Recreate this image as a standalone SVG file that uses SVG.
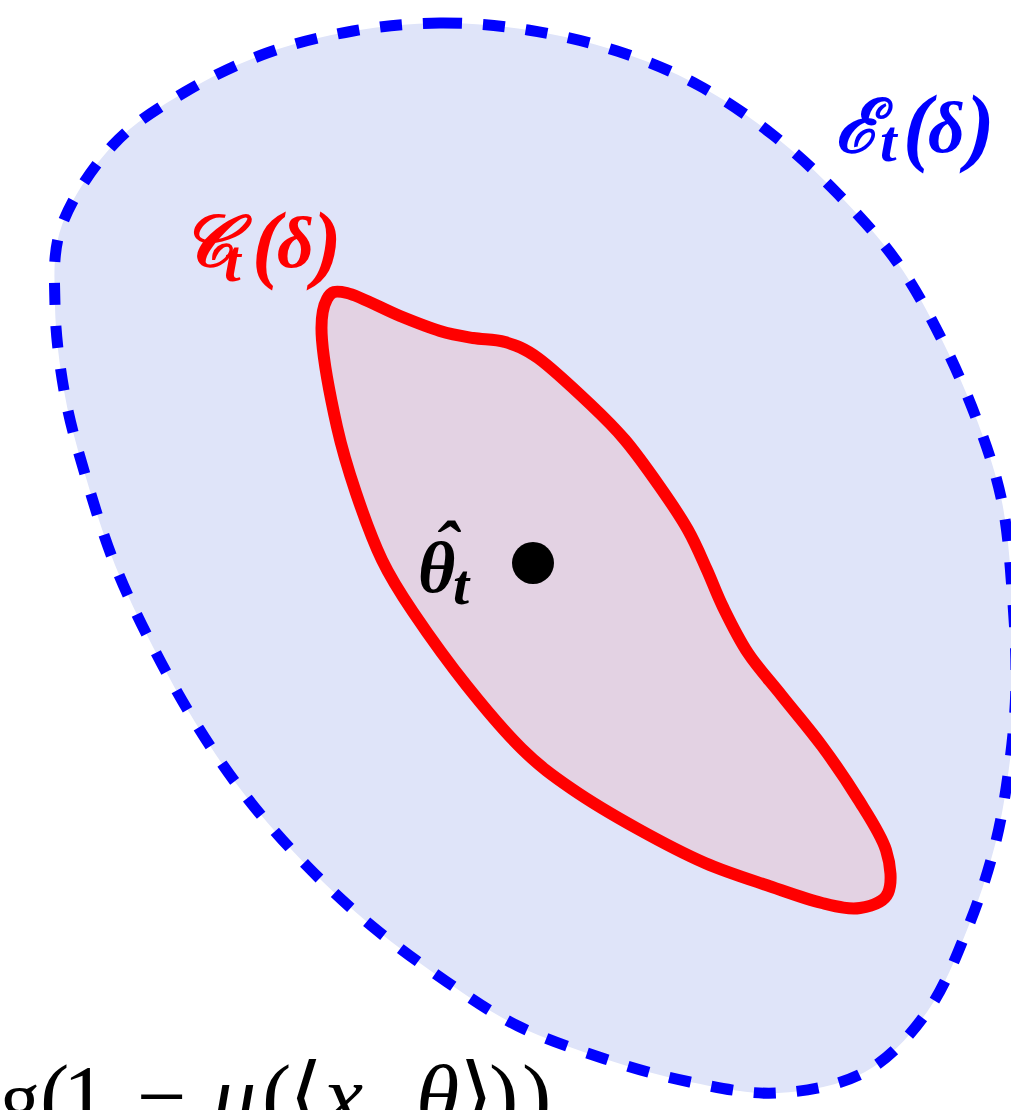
<svg xmlns="http://www.w3.org/2000/svg" width="1011" height="1110" viewBox="0 0 1011 1110">
  <style>
    .math { font-family: "Liberation Serif", "DejaVu Serif", serif; font-style: italic; font-weight: bold; }
    .outer { fill: #dfe4f9; stroke: #0000ff; stroke-width: 11; stroke-dasharray: 22 21; }
    .inner { fill: #e3d2e3; stroke: #ff0000; stroke-width: 12; stroke-linejoin: round; }
    .bottom { font-family: "Liberation Serif", "DejaVu Serif", serif; font-size: 88px; fill: #000; }
  </style>
  <rect x="0" y="0" width="1011" height="1110" fill="#ffffff"/>

  <g id="outer-set">
    <path class="outer" d="M440,23 C469.2,22.8 498.5,25.3 528,30 C557.5,34.7 588.7,41.8 617,51 C645.3,60.2 672,71 698,85 C724,99 749.7,116.8 773,135 C796.3,153.2 817.3,172.8 838,194 C858.7,215.2 879.7,237.7 897,262 C914.3,286.3 928.5,313.2 942,340 C955.5,366.8 968,396 978,423 C988,450 996.3,474.2 1002,502 C1007.7,529.8 1009.7,560.3 1012,590 C1014.3,619.7 1016.3,651.7 1016,680 C1015.7,708.3 1013.5,732.5 1010,760 C1006.5,787.5 1002.2,816.7 995,845 C987.8,873.3 978.3,902.2 967,930 C955.7,957.8 944,988.3 927,1012 C910,1035.7 889.8,1058.5 865,1072 C840.2,1085.5 807.2,1091.3 778,1093 C748.8,1094.7 718.8,1087.7 690,1082 C661.2,1076.3 633.7,1068.3 605,1059 C576.3,1049.7 544.3,1038.8 518,1026 C491.7,1013.2 471.2,998.5 447,982 C422.8,965.5 396.3,946.3 373,927 C349.7,907.7 327.8,887.3 307,866 C286.2,844.7 266.2,822.2 248,799 C229.8,775.8 213.8,752.3 198,727 C182.2,701.7 166.8,674 153,647 C139.2,620 126,592.7 115,565 C104,537.3 95.3,509.2 87,481 C78.7,452.8 70.3,425.2 65,396 C59.7,366.8 55.5,334.5 55,306 C54.5,277.5 52.3,251.8 62,225 C71.7,198.2 92.5,167.2 113,145 C133.5,122.8 159.3,107.3 185,92 C210.7,76.7 239,63.2 267,53 C295,42.8 324.2,36 353,31 C381.8,26 410.8,23.2 440,23 Z"/>
  </g>

  <g id="inner-set">
    <path class="inner" d="M322,340 C320.3,318.7 322.8,306.8 327,299 C331.2,291.2 334.8,290.2 347,293 C359.2,295.8 384.5,309.7 400,316 C415.5,322.3 427.8,327.3 440,331 C452.2,334.7 462.2,336.2 473,338 C483.8,339.8 494.2,338.7 505,342 C515.8,345.3 523.8,347.7 538,358 C552.2,368.3 575.5,390.3 590,404 C604.5,417.7 613.3,426.2 625,440 C636.7,453.8 649.5,472 660,487 C670.5,502 680.2,516.2 688,530 C695.8,543.8 701.2,557.2 707,570 C712.8,582.8 716.2,593.2 723,607 C729.8,620.8 738.2,638.2 748,653 C757.8,667.8 769.7,680.5 782,696 C794.3,711.5 809.3,728.8 822,746 C834.7,763.2 847.3,781.7 858,799 C868.7,816.3 881,834.3 886,850 C891,865.7 892.3,883.3 888,893 C883.7,902.7 871,906.3 860,908 C849,909.7 836.7,906.5 822,903 C807.3,899.5 791.5,893.7 772,887 C752.5,880.3 727.3,872.7 705,863 C682.7,853.3 660.2,841.3 638,829 C615.8,816.7 591.3,802.3 572,789 C552.7,775.7 539.5,766.2 522,749 C504.5,731.8 485.2,708.8 467,686 C448.8,663.2 427.2,633 413,612 C398.8,591 391.5,579.8 382,560 C372.5,540.2 363.5,515.2 356,493 C348.5,470.8 342.7,452.5 337,427 C331.3,401.5 323.7,361.3 322,340 Z"/>
  </g>

  <g id="label-E">
    <text class="math" fill="#0000ff"><tspan x="835" y="152" font-size="74">ℰ</tspan><tspan x="880" y="161" font-size="60">t</tspan><tspan x="903" y="155" font-size="86">(</tspan><tspan x="928" y="152" font-size="72">δ</tspan><tspan x="966" y="155" font-size="86">)</tspan></text>
  </g>

  <g id="label-C">
    <text class="math" fill="#ff0000"><tspan x="181" y="266" font-size="72">𝒞</tspan><tspan x="224" y="281" font-size="60">t</tspan><tspan x="252" y="272" font-size="86">(</tspan><tspan x="277" y="267" font-size="72">δ</tspan><tspan x="313" y="272" font-size="86">)</tspan></text>
  </g>

  <g id="theta-hat">
    <circle cx="533" cy="563" r="21" fill="#000"/>
    <text class="math" fill="#000"><tspan x="418" y="592" font-size="72">θ</tspan><tspan x="453" y="604" font-size="58">t</tspan></text>
    <text class="math" fill="#000" x="446" y="571" font-size="72" text-anchor="middle">ˆ</text>
  </g>

  <g id="bottom-text">
    <text class="bottom" y="1126"><tspan x="0" font-size="80">g</tspan><tspan x="40">(</tspan><tspan x="63">1</tspan><tspan x="137">−</tspan><tspan x="212" font-style="italic">μ</tspan><tspan x="262">(</tspan><tspan x="289">⟨</tspan><tspan x="324" font-style="italic">x</tspan><tspan x="368">,</tspan><tspan x="416" font-style="italic">θ</tspan><tspan x="459">⟩</tspan><tspan x="489">)</tspan><tspan x="522">)</tspan></text>
  </g>
</svg>
